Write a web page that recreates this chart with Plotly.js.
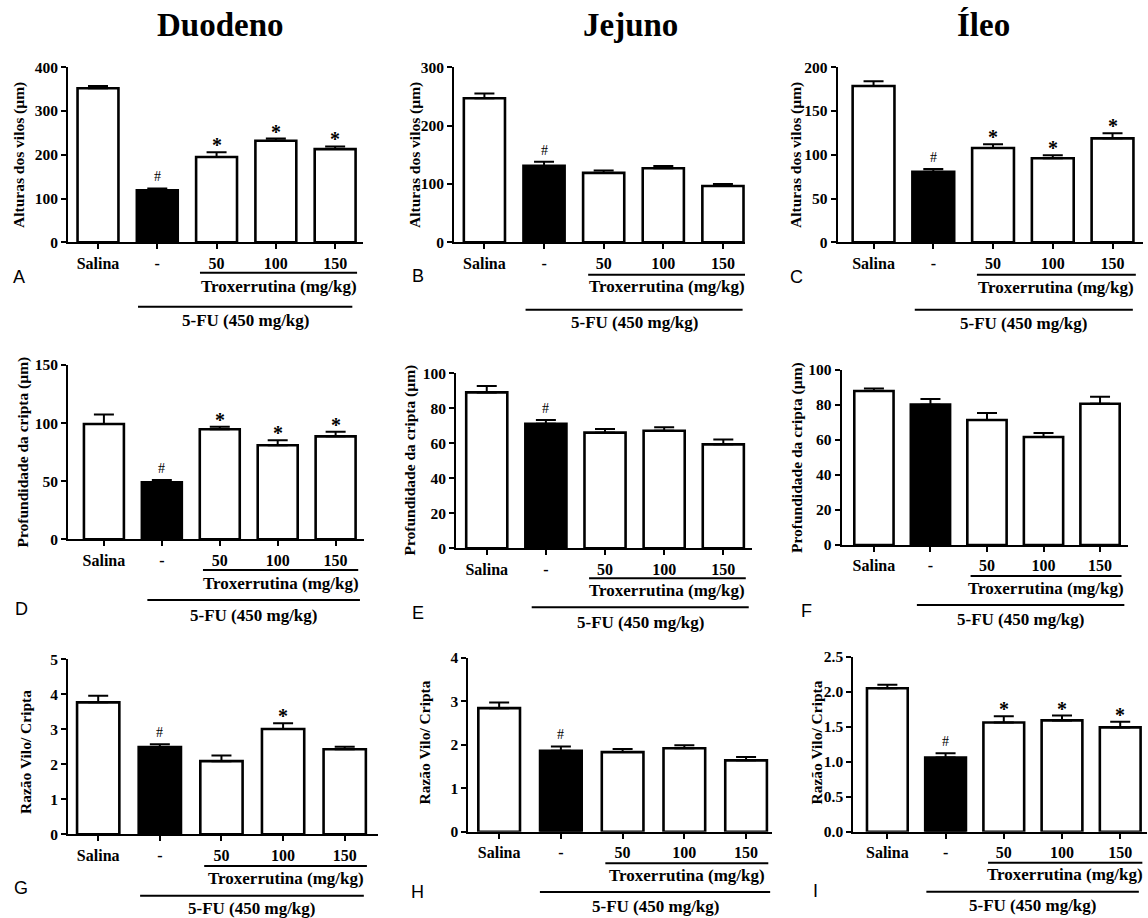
<!DOCTYPE html>
<html><head><meta charset="utf-8">
<script src="https://cdn.plot.ly/plotly-3.0.1.min.js"></script>
<style>html,body{margin:0;padding:0;background:#fff;}#chart{width:1148px;height:918px;}</style>
</head><body><div id="chart"></div>
<script>
// ---------- data ----------
const categories = ['Salina', '-', '50', '100', '150'];
const columnTitles = ['Duodeno', 'Jejuno', 'Íleo'];
const panelLetters = ['A','B','C','D','E','F','G','H','I'];
const yTitles = ['Alturas dos vilos (µm)', 'Profundidade da cripta (µm)', 'Razão Vilo/ Cripta'];
const troxLabel = 'Troxerrutina (mg/kg)';
const fuLabel = '5-FU (450 mg/kg)';

const viloDuodeno = [352, 119, 195, 232, 213];
const viloDuodenoErr = [5, 4, 11, 5, 6];
const viloJejuno = [247, 131, 119, 127, 96.5];
const viloJejunoErr = [8, 7, 4, 4, 3.5];
const viloIleo = [178.6, 80.7, 107.8, 96, 118.8];
const viloIleoErr = [5.4, 3.1, 4.2, 3.4, 5.8];

const criptaDuodeno = [99.2, 49, 94.7, 80.9, 88.6];
const criptaDuodenoErr = [8.3, 2, 2.2, 4.3, 4];
const criptaJejuno = [89.1, 71.2, 66.1, 67.2, 59.4];
const criptaJejunoErr = [3.6, 2.1, 2.1, 1.9, 2.7];
const criptaIleo = [88, 80.2, 71.4, 61.7, 80.7];
const criptaIleoErr = [1.5, 3.2, 4, 2.3, 4];

const razaoDuodeno = [3.77, 2.49, 2.09, 3.01, 2.43];
const razaoDuodenoErr = [0.19, 0.08, 0.16, 0.16, 0.07];
const razaoJejuno = [2.84, 1.86, 1.83, 1.92, 1.64];
const razaoJejunoErr = [0.13, 0.1, 0.07, 0.07, 0.08];
const razaoIleo = [2.05, 1.06, 1.56, 1.59, 1.49];
const razaoIleoErr = [0.05, 0.06, 0.09, 0.07, 0.08];

const sigA = ['', '#', '*', '*', '*'];
const sigB = ['', '#', '', '', ''];
const sigC = ['', '#', '*', '*', '*'];
const sigD = ['', '#', '*', '*', '*'];
const sigE = ['', '#', '', '', ''];
const sigF = ['', '', '', '', ''];
const sigG = ['', '#', '', '*', ''];
const sigH = ['', '#', '', '', ''];
const sigI = ['', '#', '*', '*', '*'];

const yMax = [400, 300, 200, 150, 100, 100, 5, 4, 2.5];
const yStep = [100, 100, 50, 50, 20, 20, 1, 1, 0.5];

// ---------- layout geometry (pixels) ----------
const W = 1148, H = 918;
const geo = [
  {l:68,   r:363,  t:67.3,  b:242.3, r0:-0.506, r1:4.47, bw:0.69, trox:[1.72,4.37], fu:[0.675,4.29], off:[30.5,44.5,64.5,78], lt:[19,277], yt:[19,155]},
  {l:454,  r:745,  t:67.3,  b:242.3, r0:-0.51,  r1:4.37, bw:0.69, trox:[1.74,4.39], fu:[0.69,4.33],  off:[32.5,44.5,67.5,80.5], lt:[417.5,276], yt:[415,155]},
  {l:837.7,r:1143, t:67.3,  b:242.3, r0:-0.60,  r1:4.51, bw:0.70, trox:[1.73,4.39], fu:[0.69,4.34],  off:[32.5,45,67.5,81], lt:[796,277], yt:[796,155]},
  {l:68,   r:364,  t:365,   b:539.3, r0:-0.62,  r1:4.49, bw:0.69, trox:[1.71,4.39], fu:[0.75,4.42],  off:[30.7,44,60.7,76], lt:[21,609], yt:[22.5,452]},
  {l:456,  r:751.7,t:373.3, b:548.3, r0:-0.52,  r1:4.48, bw:0.695,trox:[1.73,4.38], fu:[0.76,4.43],  off:[30,42.5,59,74.5], lt:[417.5,612.5], yt:[409.5,460]},
  {l:841.7,r:1128.3,t:370,  b:545,   r0:-0.57,  r1:4.50, bw:0.695,trox:[1.71,4.38], fu:[0.76,4.43],  off:[31,43.5,60,74.5], lt:[806,611], yt:[796.5,457.5]},
  {l:68,   r:378,  t:659.3, b:834.3, r0:-0.49,  r1:4.54, bw:0.686,trox:[1.72,4.36], fu:[0.68,4.31],  off:[31.7,44,61.4,74], lt:[21,887.5], yt:[25,752]},
  {l:468.3,r:772,  t:657.7, b:831.7, r0:-0.50,  r1:4.42, bw:0.675,trox:[1.72,4.36], fu:[0.66,4.39],  off:[31.6,43.5,60.3,74.5], lt:[417.5,892], yt:[423.5,743]},
  {l:853.3,r:1147, t:656.7, b:831.7, r0:-0.585, r1:4.46, bw:0.70, trox:[1.73,4.38], fu:[0.67,4.32],  off:[31,42.5,60,73.5], lt:[815,891], yt:[815.5,743]}
];
const titlePos = [[220, 25], [630, 25], [983, 25]];

const panels = [
  {v: viloDuodeno,   e: viloDuodenoErr,   s: sigA, yt: 0},
  {v: viloJejuno,    e: viloJejunoErr,    s: sigB, yt: 0},
  {v: viloIleo,      e: viloIleoErr,      s: sigC, yt: 0},
  {v: criptaDuodeno, e: criptaDuodenoErr, s: sigD, yt: 1},
  {v: criptaJejuno,  e: criptaJejunoErr,  s: sigE, yt: 1},
  {v: criptaIleo,    e: criptaIleoErr,    s: sigF, yt: 1},
  {v: razaoDuodeno,  e: razaoDuodenoErr,  s: sigG, yt: 2},
  {v: razaoJejuno,   e: razaoJejunoErr,   s: sigH, yt: 2},
  {v: razaoIleo,     e: razaoIleoErr,     s: sigI, yt: 2}
];

// ---------- build ----------
const SERIF = "'Liberation Serif', 'Times New Roman', serif";
const SANS = "'Liberation Sans', Arial, sans-serif";
const px2x = p => p / W;
const px2y = p => 1 - p / H;

const traces = [];
const layout = {
  width: W, height: H,
  margin: {l:0, r:0, t:0, b:0},
  paper_bgcolor: '#fff', plot_bgcolor: 'rgba(0,0,0,0)',
  showlegend: false,
  shapes: [], annotations: []
};

panels.forEach((p, i) => {
  const g = geo[i];
  const n = i + 1;
  const xa = 'x' + (n === 1 ? '' : n), ya = 'y' + (n === 1 ? '' : n);
  const xk = 'xaxis' + (n === 1 ? '' : n), yk = 'yaxis' + (n === 1 ? '' : n);
  traces.push({
    type: 'bar', x: categories, y: p.v, xaxis: xa, yaxis: ya,
    width: g.bw,
    marker: {color: categories.map((c, k) => k === 1 ? '#000' : '#fff'), line: {color: '#000', width: 2.6}},
    error_y: {type: 'data', symmetric: false, array: p.e, arrayminus: p.e.map(() => 0),
              color: '#000', thickness: 2, width: 10},
    hoverinfo: 'skip'
  });
  layout[xk] = {
    domain: [px2x(g.l), px2x(g.r)], anchor: ya,
    type: 'category', categoryorder: 'array', categoryarray: categories,
    range: [g.r0, g.r1],
    showline: true, linecolor: '#000', linewidth: 2,
    ticks: 'outside', ticklen: 5, tickwidth: 2, tickcolor: '#000',
    showgrid: false, zeroline: false,
    tickfont: {family: SERIF, size: 16, color: '#000', weight: 700}
  };
  const tv = [];
  for (let v = 0; v <= yMax[i] + 1e-9; v += yStep[i]) tv.push(+v.toFixed(2));
  layout[yk] = {
    domain: [px2y(g.b), px2y(g.t)], anchor: xa,
    range: [0, yMax[i]],
    tickvals: tv, ticktext: tv.map(v => yMax[i] === 2.5 ? v.toFixed(1) : String(v)),
    showline: true, linecolor: '#000', linewidth: 2,
    ticks: 'outside', ticklen: 5, tickwidth: 2, tickcolor: '#000',
    showgrid: false, zeroline: false,
    tickfont: {family: SERIF, size: 15.5, color: '#000', weight: 700}
  };
  // significance marks (x given as category index)
  p.s.forEach((s, k) => {
    if (!s) return;
    layout.annotations.push({
      xref: xa, yref: ya, x: k, y: p.v[k] + p.e[k],
      text: s, showarrow: false, yanchor: 'bottom',
      yshift: s === '#' ? 2 : -6,
      font: s === '#' ? {family: SERIF, size: 14, color: '#000'} : {family: SERIF, size: 20, color: '#000', weight: 700}
    });
  });
  // brackets
  const yLine1 = px2y(g.b + g.off[0]), yText1 = px2y(g.b + g.off[1]);
  const yLine2 = px2y(g.b + g.off[2]), yText2 = px2y(g.b + g.off[3]);
  layout.shapes.push({type: 'line', xref: xa, yref: 'paper', x0: g.trox[0], x1: g.trox[1], y0: yLine1, y1: yLine1, line: {color: '#000', width: 2}});
  layout.shapes.push({type: 'line', xref: xa, yref: 'paper', x0: g.fu[0], x1: g.fu[1], y0: yLine2, y1: yLine2, line: {color: '#000', width: 2}});
  layout.annotations.push({xref: xa, yref: 'paper', x: (g.trox[0] + g.trox[1]) / 2, y: yText1, text: troxLabel, showarrow: false, yanchor: 'middle', font: {family: SERIF, size: 17, color: '#000', weight: 700}});
  layout.annotations.push({xref: xa, yref: 'paper', x: (g.fu[0] + g.fu[1]) / 2, y: yText2, text: fuLabel, showarrow: false, yanchor: 'middle', font: {family: SERIF, size: 17, color: '#000', weight: 700}});
  // panel letter
  layout.annotations.push({xref: 'paper', yref: 'paper', x: px2x(g.lt[0]), y: px2y(g.lt[1]), text: panelLetters[i], showarrow: false, xanchor: 'center', yanchor: 'middle', font: {family: SANS, size: 18, color: '#000'}});
  // y title
  layout.annotations.push({xref: 'paper', yref: 'paper', x: px2x(g.yt[0]), y: px2y(g.yt[1]), text: yTitles[p.yt], textangle: -90, showarrow: false, xanchor: 'center', yanchor: 'middle', font: {family: SERIF, size: 15.5, color: '#000', weight: 700}});
});

columnTitles.forEach((t, c) => {
  layout.annotations.push({xref: 'paper', yref: 'paper', x: px2x(titlePos[c][0]), y: px2y(titlePos[c][1]), text: t, showarrow: false, xanchor: 'center', yanchor: 'middle', font: {family: SERIF, size: 33, color: '#000', weight: 700}});
});

Plotly.newPlot('chart', traces, layout, {displayModeBar: false, staticPlot: true});
</script>
</body></html>
